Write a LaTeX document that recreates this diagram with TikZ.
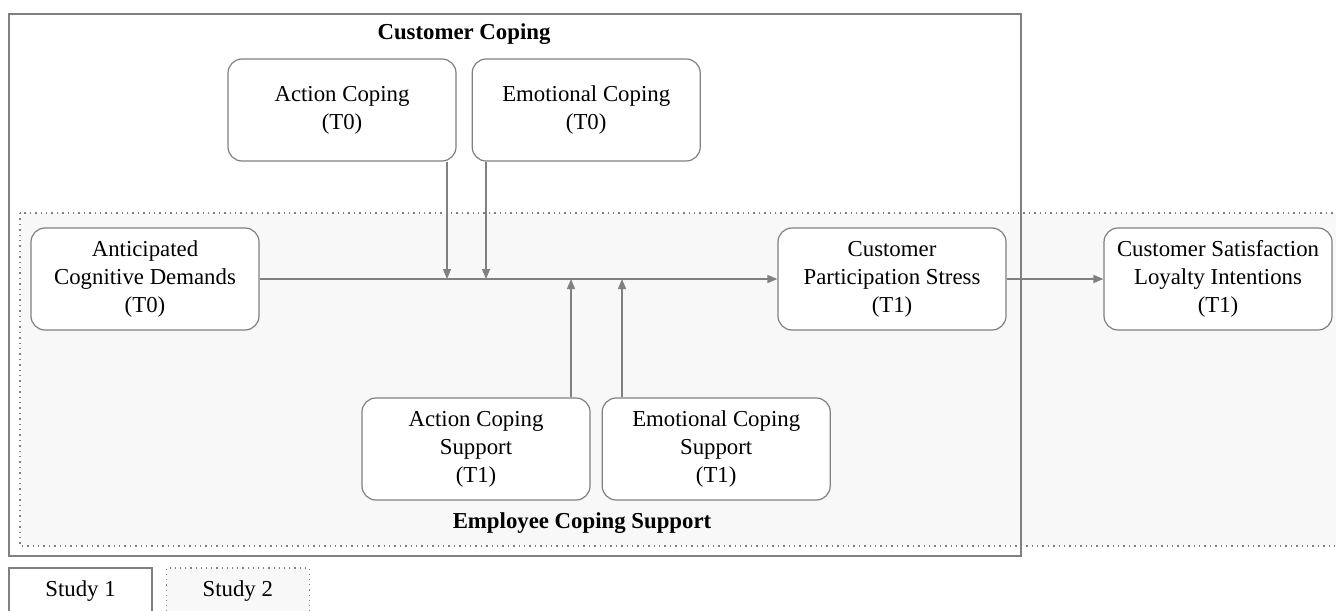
\documentclass[tikz,border=0pt]{standalone}
\usepackage{fontspec}
\setmainfont{Liberation Serif}
\usepackage{tikz}
\usetikzlibrary{arrows.meta,positioning}
\definecolor{copeGray}{RGB}{128,128,128}
\definecolor{copeFill}{RGB}{248,248,248}

\begin{document}
\begin{tikzpicture}[
    x=0.5pt, y=-0.5pt,
    node distance=5.5pt,
    var/.style={draw=copeGray, line width=0.6pt, rounded corners=7pt, fill=white, align=center, font=\fontsize{11.4}{14}\selectfont, minimum width=114pt, minimum height=51pt, inner sep=0pt},
    head/.style={font=\fontsize{11.4}{14}\selectfont\bfseries},
    legend/.style={draw=copeGray, line width=0.6pt, font=\fontsize{11.4}{14}\selectfont, minimum width=71.5pt, minimum height=23pt, inner sep=0pt},
    arrow/.style={-{Triangle[length=5pt, width=4pt]}, line width=0.6pt, copeGray}
  ]
    \useasboundingbox (0,0) rectangle (1336,610);
    % study 2 area
    \draw[copeGray, line width=0.7pt, dotted, fill=copeFill] (20,213) rectangle (1345,546);
    % study 1 area
    \draw[copeGray, line width=0.6pt] (9,14) rectangle (1021,556);
    \node[head] (cc) at (464,34) {Customer Coping};
    \node[head] (ec) at (582,523) {Employee Coping Support};

    \node[var] (ac) at (342,110) {Action Coping\\(T0)};
    \node[var, right=7.5pt of ac] (em) {Emotional Coping\\(T0)};
    \node[var] (acd) at (145,279) {Anticipated\\Cognitive Demands\\(T0)};
    \node[var] (cps) at (892,279) {Customer\\Participation Stress\\(T1)};
    \node[var] (csl) at (1218,279) {Customer Satisfaction\\Loyalty Intentions\\(T1)};
    \node[var] (acs) at (476,449) {Action Coping\\Support\\(T1)};
    \node[var, right=of acs] (ecs) {Emotional Coping\\Support\\(T1)};

    \coordinate (m1) at (447,279);
    \coordinate (m2) at (486,279);
    \coordinate (m3) at (571,279);
    \coordinate (m4) at (622,279);

    \draw[arrow] (acd) -- (cps);
    \draw[arrow] (cps) -- (csl);
    \draw[arrow] (ac.south -| m1) -- (m1);
    \draw[arrow] (em.south -| m2) -- (m2);
    \draw[arrow] (acs.north -| m3) -- (m3);
    \draw[arrow] (ecs.north -| m4) -- (m4);

    % legend
    \node[legend] (s1) at (80.5,591) {Study 1};
    \node[legend, dotted, fill=copeFill, line width=0.7pt, right=6.5pt of s1] (s2) {Study 2};
  \end{tikzpicture}
\end{document}
